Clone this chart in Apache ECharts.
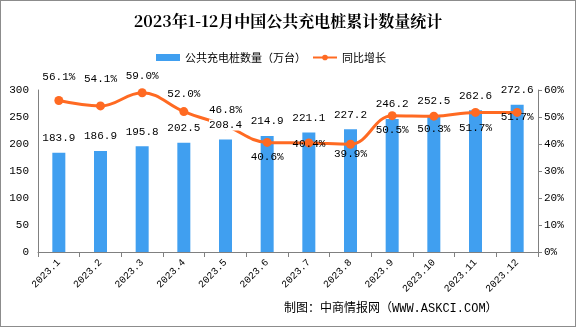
<!DOCTYPE html>
<html><head><meta charset="utf-8">
<script src="https://cdn.jsdelivr.net/npm/echarts@6/dist/echarts.min.js"></script>
<style>html,body{margin:0;padding:0;background:#fff}#c{width:574px;height:325px;border:1px solid #8c8c8c}</style>
</head><body><div id="c"></div>
<script>
const categories = ['2023.1','2023.2','2023.3','2023.4','2023.5','2023.6','2023.7','2023.8','2023.9','2023.10','2023.11','2023.12'];
const pileCount = [183.9,186.9,195.8,202.5,208.4,214.9,221.1,227.2,246.2,252.5,262.6,272.6];
const yoyGrowth = [56.1,54.1,59.0,52.0,46.8,40.6,40.4,39.9,50.5,50.3,51.7,51.7];
const labelDy = [-23,-27,-17,-18,-16,15,1,10,14,13,16,5];
const leftTicks = [0,50,100,150,200,250,300];
const rightTicks = [0,10,20,30,40,50,60];

const font = '"Liberation Mono","DejaVu Sans Mono",monospace';
const chart = echarts.init(document.getElementById('c'));
chart.setOption({
  animation:false,
  title:{text:'2023年1-12月中国公共充电桩累计数量统计',left:'center',top:7,
    textStyle:{fontFamily:'"Noto Serif CJK SC","Noto Sans CJK SC",serif',fontWeight:'bold',fontSize:16,color:'#000'}},
  legend:{top:46,left:150,itemWidth:24,itemHeight:7,itemGap:6,
    textStyle:{fontFamily:'"Noto Sans CJK SC"',fontSize:11,color:'#000'},
    data:[{name:'公共充电桩数量（万台）',icon:'rect'},{name:'同比增长'}]},
  grid:{left:37,right:37,top:89,bottom:74},
  xAxis:{type:'category',data:categories,
    axisLine:{lineStyle:{color:'#808080'}},
    axisTick:{show:true,length:5,lineStyle:{color:'#808080'}},
    axisLabel:{rotate:45,interval:0,fontFamily:font,fontSize:10,color:'#000',margin:9}},
  yAxis:[
    {type:'value',min:leftTicks[0],max:leftTicks[leftTicks.length-1],interval:50,
      axisLine:{show:true,lineStyle:{color:'#808080'}},axisTick:{show:false},
      splitLine:{show:false},
      axisLabel:{fontFamily:font,fontSize:11,color:'#000',margin:9}},
    {type:'value',min:rightTicks[0],max:rightTicks[rightTicks.length-1],interval:10,
      axisLine:{show:true,lineStyle:{color:'#808080'}},
      axisTick:{show:true,length:4,lineStyle:{color:'#808080'}},
      splitLine:{show:false},
      axisLabel:{formatter:'{value}%',fontFamily:font,fontSize:11,color:'#000',margin:6}}
  ],
  series:[
    {name:'公共充电桩数量（万台）',type:'bar',data:pileCount,barWidth:13,z:2,
      itemStyle:{color:'#409FF0'},label:{show:false}},
    {name:'同比增长',type:'line',yAxisIndex:1,z:3,
      data:yoyGrowth.map((v,i)=>({value:v,label:{offset:[0,labelDy[i]]}})),
      smooth:0.4,symbol:'circle',symbolSize:9,
      lineStyle:{color:'#FF6A22',width:3},itemStyle:{color:'#FF6A22'},
      label:{show:true,position:'inside',fontFamily:font,fontSize:11,color:'#000',formatter:p=>p.value.toFixed(1)+'%'}},
    {name:'barLabels',type:'bar',data:pileCount.map((v,i)=>i===4?{value:v,label:{backgroundColor:'#fff'}}:v),
      barWidth:13,barGap:'-100%',z:5,silent:true,
      itemStyle:{color:'rgba(0,0,0,0)'},
      label:{show:true,position:'top',distance:9,fontFamily:font,fontSize:11,color:'#000',formatter:p=>p.value.toFixed(1)}}
  ],
  graphic:[{type:'text',left:283,top:302,style:{text:'制图：中商情报网（WWW.ASKCI.COM）',font:'12px "Liberation Mono","Noto Sans CJK SC"',fill:'#000'}}]
});
</script></body></html>
